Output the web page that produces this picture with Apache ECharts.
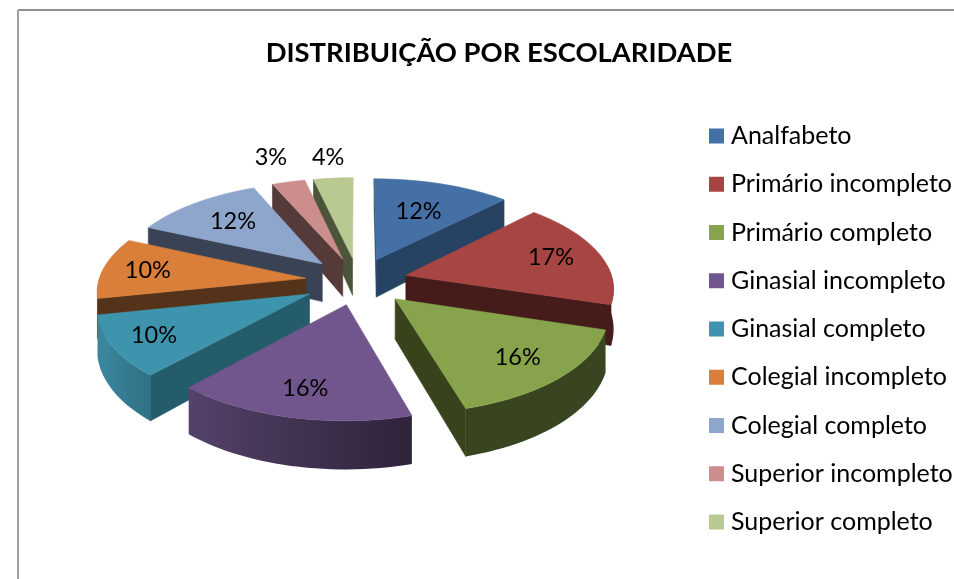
<!DOCTYPE html>
<html><head><meta charset="utf-8">
<style>html,body{margin:0;padding:0;background:#fff}#c{width:954px;height:579px}</style>
<script src="https://cdn.jsdelivr.net/npm/echarts@6/dist/echarts.min.js"></script>
</head><body><div id="c"></div>
<script>
const categories = ['Analfabeto','Primário incompleto','Primário completo','Ginasial incompleto','Ginasial completo','Colegial incompleto','Colegial completo','Superior incompleto','Superior completo'];
const values = [12.4,17.3,15.7,16.4,9.9,9.9,11.7,3,3.6];
const topColors = ['#4470a5','#a74543','#87a44c','#70568c','#3f94ad','#d97f3a','#8fa6cc','#cc8e8d','#b8ca92'];
const wallColors = ['#264364','#451c1a','#38431c','#33243f','#255c6b','#55321a','#3a4356','#553a3a','#4c553a'];
const explode = [.24,.24,.25,.24,.265,.255,.25,.24,.24];
const labelReach = [.61,.75,.76,.76,.8,.78,.68,1.4,1.33];

const total = values.reduce((a,b)=>a+b,0);
const starts = []; let acc = 0;
values.forEach(v=>{starts.push(acc); acc += v/total*360;});
const rad = d=>d*Math.PI/180;
const G = {cx:358, cy:281, R:207, A:98.4, qx:.12, qy:.123, qh:.2, h:39};
const mids = values.map((v,i)=>starts[i]+v/total*180);
const order = mids.map((m,i)=>[-Math.cos(rad(m)),i]).sort((a,b)=>a[0]-b[0]).map(p=>p[1]);

function shade(hex,f){
  const n=parseInt(hex.slice(1),16);
  return 'rgb('+[(n>>16)&255,(n>>8)&255,n&255].map(c=>Math.round(c*f)).join(',')+')';
}
function rimFactor(a){ return Math.min(.9,Math.max(.42,.42+(a-165)/75*.45)); }
function renderSlice(i, value){
  const a1 = starts[i], a2 = a1 + value/total*360, m = (a1+a2)/2;
  const u0 = explode[i]*Math.sin(rad(m)), v0 = -explode[i]*Math.cos(rad(m));
  const P = (r,a,z)=>{
    const u = u0 + r*Math.sin(rad(a)), v = v0 - r*Math.cos(rad(a));
    return [G.cx + G.R*u*(1+G.qx*v), G.cy + G.A*v*(1+G.qy*v) + z*G.h*(1+G.qh*v)];
  };
  const rank = order.indexOf(i)*10;
  const kids = [];
  const n = Math.max(2,Math.ceil((a2-a1)/2));
  const arc = (b1,b2,z)=>Array.from({length:n+1},(_,k)=>P(1,b1+(b2-b1)*k/n,z));
  const poly = (points,fill,z2)=>({type:'polygon',shape:{points},z2,style:{fill,stroke:fill,lineWidth:.6}});
  // outer rim wall with a left-to-right gradient
  const b1 = Math.max(a1,84), b2 = Math.min(a2,276);
  if(b2>b1){
    const top = arc(b1,b2,0), bot = arc(b1,b2,1).reverse();
    const xs = top.map(p=>p[0]), x0 = Math.min(...xs), x1 = Math.max(...xs);
    const stops = top.map((p,k)=>({a:b1+(b2-b1)*k/n,x:p[0]})).sort((s,t)=>s.x-t.x)
      .map(s=>({offset:(s.x-x0)/Math.max(1,x1-x0),color:shade(topColors[i],rimFactor(s.a))}));
    kids.push({type:'polygon',shape:{points:top.concat(bot)},z2:rank+1,style:{
      fill:{type:'linear',global:true,x:x0,y:0,x2:x1,y2:0,colorStops:stops}}});
  }
  // radial walls that face the viewer
  if(Math.sin(rad(a1))<0.0001) kids.push(poly([P(0,0,0),P(1,a1,0),P(1,a1,1),P(0,0,1)],wallColors[i],rank+2));
  if(Math.sin(rad(a2))>0.0001) kids.push(poly([P(0,0,0),P(1,a2,0),P(1,a2,1),P(0,0,1)],wallColors[i],rank+2));
  // top face
  kids.push(poly([P(0,0,0)].concat(arc(a1,a2,0)),topColors[i],rank+3));
  // percentage label
  const L = P(labelReach[i],m,0);
  kids.push({type:'text',z2:1000,style:{text:Math.round(value/total*100)+'%',x:L[0],y:L[1],
    font:'23.5px Lato',fill:'#000',align:'center',verticalAlign:'middle'}});
  return {type:'group',children:kids};
}

const chart = echarts.init(document.getElementById('c'),null,{renderer:'canvas'});
chart.setOption({
  animation:false,
  backgroundColor:'#fff',
  title:{text:'DISTRIBUIÇÃO POR ESCOLARIDADE',left:494,top:35,textAlign:'center',
    textStyle:{fontFamily:'Lato',fontWeight:'bold',fontSize:27.4,color:'#000'}},
  legend:{orient:'vertical',left:704,top:118.5,itemWidth:15,itemHeight:15,itemGap:23.25,icon:'rect',selectedMode:false,
    data:categories,textStyle:{fontFamily:'Lato',fontSize:25,lineHeight:25,color:'#000',padding:[0,0,0,2]}},
  graphic:[
    {type:'line',shape:{x1:18,y1:10,x2:954,y2:10},style:{stroke:'#8f8f8f',lineWidth:2}},
    {type:'line',shape:{x1:18,y1:10,x2:18,y2:579},style:{stroke:'#a0a0a0',lineWidth:2}}
  ],
  series:categories.map((name,i)=>({
    type:'custom',name,coordinateSystem:'none',silent:true,
    itemStyle:{color:topColors[i]},
    data:[[values[i]]],
    renderItem:(params,api)=>renderSlice(i,api.value(0))
  }))
});
</script></body></html>
